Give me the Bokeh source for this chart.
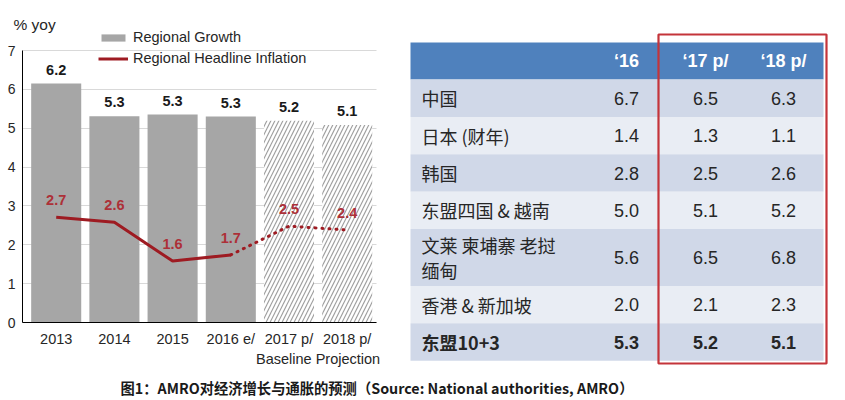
from bokeh.plotting import figure
from bokeh.models import (Range1d, FixedTicker, LinearAxis, Legend, LegendItem, Label, Grid,
                          ColumnDataSource, CDSView, BooleanFilter)
from bokeh.layouts import column, row
from bokeh.core.properties import value
from bokeh.embed import file_html
from bokeh.resources import INLINE

# ---------------- data ----------------
years = ["2013", "2014", "2015", "2016 e/", "2017 p/", "2018 p/"]
growth = [6.15, 5.31, 5.35, 5.30, 5.19, 5.08]
inflation = [2.71, 2.58, 1.58, 1.74, 2.48, 2.38]
projected = [False, False, False, False, True, True]
projection_label = "Baseline Projection"
y_ticks = [0, 1, 2, 3, 4, 5, 6, 7]
y_unit = "% yoy"
series_names = ["Regional Growth", "Regional Headline Inflation"]

table_cols = ["\u201816", "\u201817 p/", "\u201818 p/"]
table_rows = ["中国", "日本 (财年)", "韩国", "东盟四国 & 越南",
              "文莱 柬埔寨 老挝\n缅甸", "香港 & 新加坡", "东盟10+3"]
v16 = [6.7, 1.4, 2.8, 5.0, 5.6, 2.0, 5.3]
v17 = [6.5, 1.3, 2.5, 5.1, 6.5, 2.1, 5.2]
v18 = [6.3, 1.1, 2.6, 5.2, 6.8, 2.3, 5.1]
caption = "图1：AMRO对经济增长与通胀的预测（Source: National authorities, AMRO）"

# ---------------- styles / layout ----------------
LAT = value("Liberation Sans")
CJK = value("Noto Sans CJK SC")
BAR_GRAY = "#a6a6a6"
RED_LINE = "#9e1b22"
RED_TEXT = "#ad3038"
TXT = "#262626"

W1, W2, HROW, HCAP = 400, 440, 372, 26

# chart geometry (pixels inside the chart canvas)
PX_X = 58.2          # pixels per category
PX_Y = 38.857        # pixels per y unit
X0_PX = 55.7         # pixel of first category centre
Y0_PX = 50.0         # pixels of y=0 above canvas bottom
X_AX_MIN, X_AX_MAX = -0.58, 5.5

# ---------------- chart ----------------
xs = list(range(len(years)))
src = ColumnDataSource(dict(
    x=xs, growth=growth, inflation=inflation,
    glab=[f"{g:.1f}" for g in growth],
    ilab=[f"{v:.1f}" for v in inflation],
))

x_start = -X0_PX / PX_X
y_start = -Y0_PX / PX_Y
p = figure(width=W1, height=HROW,
           x_range=Range1d(x_start, x_start + W1 / PX_X),
           y_range=Range1d(y_start, y_start + HROW / PX_Y),
           output_backend="svg", toolbar_location=None, x_axis_type=None, y_axis_type=None,
           min_border=0)
p.outline_line_color = None
p.background_fill_color = "white"

yax = LinearAxis(ticker=FixedTicker(ticks=y_ticks), bounds=(min(y_ticks), max(y_ticks)),
                 fixed_location=X_AX_MIN, axis_line_color="#000000", axis_line_width=1,
                 major_tick_line_color=None, minor_tick_line_color=None,
                 major_tick_out=0, major_tick_in=0, major_label_standoff=7,
                 major_label_text_font="Liberation Sans", major_label_text_font_size="14px",
                 major_label_text_color=TXT)
p.add_layout(yax, "left")

xax = LinearAxis(ticker=FixedTicker(ticks=xs), bounds=(X_AX_MIN, X_AX_MAX),
                 major_label_overrides={x: y for x, y in zip(xs, years)},
                 fixed_location=0, axis_line_color="#000000", axis_line_width=1,
                 major_tick_line_color=None, minor_tick_line_color=None,
                 major_tick_out=0, major_tick_in=0, major_label_standoff=8,
                 major_label_text_font="Liberation Sans", major_label_text_font_size="14.5px",
                 major_label_text_color=TXT)
p.add_layout(xax, "below")

proj_x = [x for x, f in zip(xs, projected) if f]
proj_center = sum(proj_x) / len(proj_x)
ax2 = LinearAxis(ticker=FixedTicker(ticks=[proj_center]),
                 major_label_overrides={proj_center: projection_label},
                 fixed_location=0, axis_line_color=None,
                 major_tick_line_color=None, minor_tick_line_color=None,
                 major_tick_out=0, major_tick_in=0, major_label_standoff=28,
                 major_label_text_font="Liberation Sans", major_label_text_font_size="14.5px",
                 major_label_text_color=TXT)
p.add_layout(ax2, "below")

grid = Grid(dimension=1, ticker=yax.ticker, grid_line_color="#d9d9d9", grid_line_width=1,
            bounds=(min(y_ticks), max(y_ticks)))
try:
    grid.cross_bounds = (X_AX_MIN, X_AX_MAX)
except Exception:
    pass
p.add_layout(grid)

actual_view = CDSView(filter=BooleanFilter([not f for f in projected]))
proj_view = CDSView(filter=BooleanFilter(projected))
bars = p.vbar(x="x", top="growth", width=0.86, source=src, view=actual_view,
              fill_color=BAR_GRAY, line_color=None)
p.vbar(x="x", top="growth", width=0.86, source=src, view=proj_view,
       fill_color="white", line_color=None, hatch_pattern="right_diagonal_line",
       hatch_color="#a0a0a0", hatch_weight=1.2, hatch_scale=8)

p.text(x="x", y="growth", text="glab", source=src, text_align="center", text_baseline="middle",
       y_offset=-14, text_font=LAT, text_font_style="bold", text_font_size="14.5px",
       text_color="#1a1a1a")

act_idx = [i for i, f in enumerate(projected) if not f]
dot_idx = [act_idx[-1]] + [i for i, f in enumerate(projected) if f]
solid = p.line(x=[xs[i] for i in act_idx], y=[inflation[i] for i in act_idx],
               line_color=RED_LINE, line_width=3)
p.line(x=[xs[i] for i in dot_idx], y=[inflation[i] for i in dot_idx],
       line_color=RED_LINE, line_width=3, line_dash="1 6", line_cap="round")
p.text(x="x", y="inflation", text="ilab", source=src, text_align="center", text_baseline="middle",
       y_offset=-17, text_font=LAT, text_font_style="bold", text_font_size="14.5px",
       text_color=RED_TEXT)

legend = Legend(items=[LegendItem(label=series_names[0], renderers=[bars]),
                       LegendItem(label=series_names[1], renderers=[solid])],
                location=(98, HROW - 68), glyph_width=30, glyph_height=9, label_height=20,
                spacing=1, padding=0, margin=0, label_standoff=5,
                border_line_color=None, background_fill_alpha=0,
                label_text_font="Liberation Sans", label_text_font_size="14.5px",
                label_text_color=TXT)
p.add_layout(legend)

p.add_layout(Label(x=13, y=HROW - 24, x_units="screen", y_units="screen", text=y_unit,
                   text_baseline="middle", text_font="Liberation Sans",
                   text_font_size="15.5px", text_color=TXT))

# ---------------- table ----------------
t = figure(width=W2, height=HROW, x_range=Range1d(0, W2), y_range=Range1d(HROW, 0),
           output_backend="svg", toolbar_location=None, x_axis_type=None, y_axis_type=None,
           min_border=0)
t.outline_line_color = None
t.grid.visible = False

tbl_left, tbl_right = 10, 423
head_top, head_h = 42, 37
base_h, extra_line_h = 37.4, 19.4
col_centers = [226, 305, 383]
label_x = 21
hl_box = dict(left=258, right=426, top=34, bottom=363)

heights = [base_h + extra_line_h * r.count("\n") for r in table_rows]
tops = []
y = head_top + head_h
for h in heights:
    tops.append(y)
    y += h
bottoms = [a + h for a, h in zip(tops, heights)]
centers = [a + h / 2 for a, h in zip(tops, heights)]
row_colors = ["#d0d8e8" if i % 2 == 0 else "#e9edf4" for i in range(len(table_rows))]

t.quad(left=[tbl_left], right=[tbl_right], top=[head_top], bottom=[head_top + head_h],
       fill_color="#4f81bd", line_color=None)
t.quad(left=[tbl_left] * len(tops), right=[tbl_right] * len(tops), top=tops, bottom=bottoms,
       fill_color=row_colors, line_color=None)

t.text(x=col_centers, y=[head_top + head_h / 2] * 3, text=table_cols, text_align="center",
       text_baseline="middle", text_font=LAT, text_font_style="bold", text_font_size="18px",
       text_color="white")

n = len(table_rows)
styles = ["normal"] * (n - 1) + ["bold"]
t.text(x=[label_x] * n, y=centers, text=table_rows, text_align="left", text_baseline="middle",
       text_font=CJK, text_font_size="18px", text_color=TXT, text_line_height=0.95,
       text_font_style=styles)
for cx, vals in zip(col_centers, [v16, v17, v18]):
    t.text(x=[cx] * n, y=centers, text=[f"{v:.1f}" for v in vals], text_align="center",
           text_baseline="middle", text_font=LAT, text_font_size="18px", text_color=TXT,
           text_font_style=styles)

t.quad(left=[hl_box["left"]], right=[hl_box["right"]], top=[hl_box["top"]],
       bottom=[hl_box["bottom"]], fill_color=None, line_color="#c4343a", line_width=2.2)

# ---------------- caption ----------------
WC = W1 + W2
c = figure(width=WC, height=HCAP, x_range=Range1d(0, WC), y_range=Range1d(HCAP, 0),
           output_backend="svg", toolbar_location=None, x_axis_type=None, y_axis_type=None,
           min_border=0)
c.outline_line_color = None
c.grid.visible = False
c.text(x=[120], y=[15], text=[caption], text_baseline="middle", text_font=CJK,
       text_font_style="bold", text_font_size="14.3px", text_color="#1a1a1a")

layout = column(row(p, t), c)
open("out.html", "w").write(file_html(layout, INLINE))
